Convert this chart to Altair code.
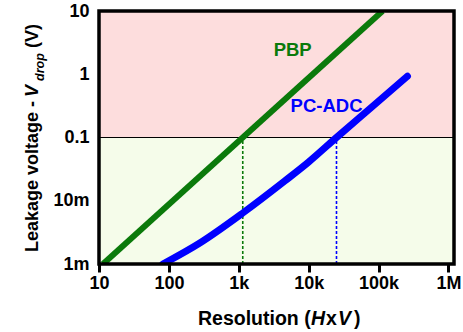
import altair as alt
import pandas as pd

# ---- data ----
x_ticks = [10, 100, 1000, 10000, 100000, 1000000]
x_tick_labels = ["10", "100", "1k", "10k", "100k", "1M"]
y_ticks = [0.001, 0.01, 0.1, 1, 10]
y_tick_labels = ["1m", "10m", "0.1", "1", "10"]

pbp_x = [11.4, 114000]
pbp_y = [0.001, 10]

adc_x = [82, 277, 1140, 4540, 10000, 25000, 82000, 259000]
adc_y = [0.001, 0.00215, 0.0064, 0.0205, 0.041, 0.1, 0.31, 0.93]

threshold = 0.1
pbp_cross = 1140
adc_cross = 25000

region_low = [0.001, 0.1]
region_high = [0.1, 10]
x_domain = [10, 1.2e6]
y_domain = [0.001, 10]

label_pbp = ("PBP", 5900, 2.4)
label_adc = ("PC-ADC", 18000, 0.32)

GREEN = "#0B7A0B"
BLUE = "#0000FF"
PINK = "#FDDDDD"
PALE = "#F5FCEA"
FONT = "Liberation Sans"
W, H = 355, 253


def label_expr(vals, labs):
    parts = [f"abs(datum.value - {v}) < {v}*1e-6 ? '{l}'" for v, l in zip(vals, labs)]
    return " : ".join(parts) + " : ''"


xs = alt.Scale(type="log", domain=x_domain, nice=False)
ys = alt.Scale(type="log", domain=y_domain, nice=False)

x_axis = alt.Axis(values=x_ticks, labelExpr=label_expr(x_ticks, x_tick_labels),
                  title=None, grid=False, domain=False, ticks=True, tickSize=8, tickWidth=3,
                  tickColor="black", labelPadding=2, labelFont=FONT, labelFontSize=18,
                  labelFontWeight="bold", labelColor="black", labelFlush=False,
                  labelOverlap=False)
y_axis = alt.Axis(values=y_ticks, labelExpr=label_expr(y_ticks, y_tick_labels),
                  title=None, grid=False, domain=False, ticks=False, labelPadding=10,
                  labelFont=FONT, labelFontSize=18, labelFontWeight="bold",
                  labelColor="black", labelFlush=False, labelOverlap=False)


def X(field):
    return alt.X(field, scale=xs, axis=x_axis)


def Y(field):
    return alt.Y(field, scale=ys, axis=y_axis)


def band(lo, hi, color):
    df = pd.DataFrame({"x0": [x_domain[0]], "x1": [x_domain[1]], "y0": [lo], "y1": [hi]})
    return alt.Chart(df).mark_rect(color=color).encode(
        x=X("x0:Q"), x2="x1:Q", y=Y("y0:Q"), y2="y1:Q")


low_band = band(region_low[0], region_low[1], PALE)
high_band = band(region_high[0], region_high[1], PINK)

rule = alt.Chart(pd.DataFrame({"y": [threshold]})).mark_rule(
    color="black", strokeWidth=1).encode(y=Y("y:Q"))


def dashed(xv, color):
    df = pd.DataFrame({"x": [xv], "y0": [y_domain[0]], "y1": [threshold]})
    return alt.Chart(df).mark_rule(strokeWidth=1.6, strokeDash=[3, 2], color=color).encode(
        x=X("x:Q"), y=Y("y0:Q"), y2="y1:Q")


pbp = alt.Chart(pd.DataFrame({"x": pbp_x, "y": pbp_y})).mark_line(
    color=GREEN, strokeWidth=6, clip=True, strokeCap="butt").encode(x=X("x:Q"), y=Y("y:Q"))

adc = alt.Chart(pd.DataFrame({"x": adc_x, "y": adc_y})).mark_line(
    color=BLUE, strokeWidth=7, clip=True, strokeCap="round", interpolate="monotone").encode(
    x=X("x:Q"), y=Y("y:Q"))


def series_label(item, color):
    t, xv, yv = item
    df = pd.DataFrame({"t": [t], "x": [xv], "y": [yv]})
    return alt.Chart(df).mark_text(font=FONT, fontSize=18.5, fontWeight="bold", color=color).encode(
        x=X("x:Q"), y=Y("y:Q"), text="t:N")


frame = alt.Chart(pd.DataFrame({"a": [0]})).mark_rect(
    filled=False, stroke="black", strokeWidth=3.5).encode(
    x=alt.value(0), x2=alt.value(W), y=alt.value(0), y2=alt.value(H))

one = pd.DataFrame({"a": [0]})


def piece(text, x, y, size=18, style="normal", angle=0):
    kw = dict(text=text, font=FONT, fontSize=size, fontWeight="bold", fontStyle=style,
              align="left", baseline="alphabetic", color="black")
    if angle:
        kw["angle"] = angle
    return alt.Chart(one).mark_text(**kw).encode(x=alt.value(x), y=alt.value(y))


# x title: Resolution (HxV)
xt = [
    piece("Resolution (", 99, 314, size=19.5),
    piece("H", 212, 314, size=19.5, style="italic"),
    piece("x", 227, 314, size=19.5),
    piece("V", 239, 314, size=19.5, style="italic"),
    piece(")", 255, 314, size=19.5),
]
# y title: Leakage voltage - V_drop (V)
yt = [
    piece("Leakage voltage - ", -61, 241, angle=270),
    piece("V", -61, 86, style="italic", angle=270),
    piece("drop", -55, 70, size=12.5, style="italic", angle=270),
    piece("(V)", -61, 37, angle=270),
]

chart = alt.layer(low_band, high_band, rule, dashed(pbp_cross, GREEN), dashed(adc_cross, BLUE),
                  pbp, adc, series_label(label_pbp, GREEN), series_label(label_adc, BLUE),
                  frame, *xt, *yt).properties(
    width=W, height=H,
    autosize=alt.AutoSizeParams(type="none"),
    padding={"left": 99, "top": 11, "right": 9, "bottom": 68},
).configure_view(stroke=None).configure(background="white")

chart.save("out.html", embed_options={"renderer": "svg", "actions": False})
